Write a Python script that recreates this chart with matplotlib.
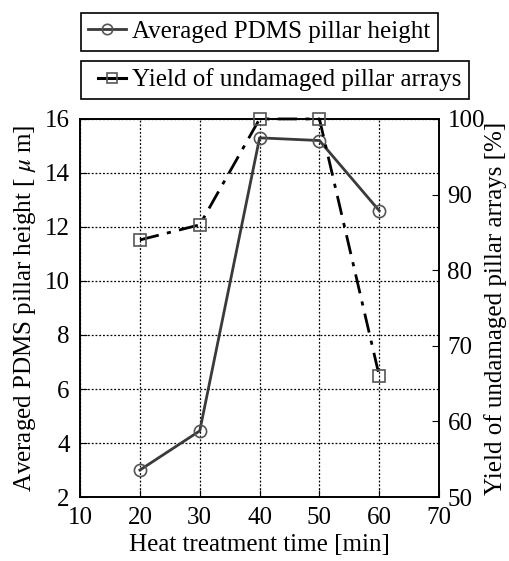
import numpy as np
import matplotlib
matplotlib.use('Agg')
from matplotlib import pyplot as plt
from matplotlib.lines import Line2D
from matplotlib.legend_handler import HandlerLine2D

plt.rcParams['font.family'] = ['Liberation Serif', 'DejaVu Serif']
plt.rcParams['mathtext.fontset'] = 'stix'
plt.rcParams['font.size'] = 18

# heat treatment time [min]
time_min = [20, 30, 40, 50, 60]
# averaged pillar height [um]
height_um = [3.0, 4.45, 15.3, 15.2, 12.6]
# yield of undamaged pillar arrays [%]
yield_pct = [84, 86, 100, 100, 66]

fig = plt.figure(figsize=(5.1, 5.61), dpi=100)
ax = fig.add_axes([0.157, 0.114, 0.704, 0.674])
ax2 = ax.twinx()

l1, = ax.plot(time_min, height_um, '-', color='#3a3a3a', lw=2,
              marker='o', ms=8.8, mfc='none', mec='#555555', mew=1.2,
              clip_on=False, zorder=3)
l2, = ax2.plot(time_min, yield_pct, color='black', lw=2,
               linestyle=(0, (7, 3, 1.5, 3)),
               marker='s', ms=9.3, mfc='none', mec='#555555', mew=1.2,
               clip_on=False, zorder=3)

ax.set_xlim(10, 70)
ax.set_ylim(2, 16)
ax2.set_ylim(50, 100)
ax.set_xticks(np.arange(10, 71, 10))
ax.set_yticks(np.arange(2, 17, 2))
ax2.set_yticks(np.arange(50, 101, 10))

ax.grid(True, color='black', linestyle=(0, (1.5, 1.5)), lw=0.9)
ax.tick_params(direction='in', length=5, pad=7.5)
ax2.tick_params(direction='in', length=5, pad=6)
for sp in list(ax.spines.values()) + list(ax2.spines.values()):
    sp.set_linewidth(1.2)

ax.set_xlabel('Heat treatment time [min]', labelpad=3)
ax.set_ylabel(r'Averaged PDMS pillar height [ $\mu$ m]', labelpad=5)
ax2.set_ylabel('Yield of undamaged pillar arrays [%]', labelpad=-1)

# legend handle for the yield curve drawn as a short solid stroke
l2_key = Line2D([], [], color='black', lw=2.2, marker='s', ms=9.3,
                mfc='none', mec='#555555', mew=1.2)

# two separate legend boxes above the axes, left edges aligned
for line, label, ytop, xpad in [(l1, 'Averaged PDMS pillar height', 13, 0.0),
                                (l2_key, 'Yield of undamaged pillar arrays', 61, 0.4)]:
    leg = fig.legend([line], [label], loc='upper left',
                     bbox_to_anchor=(81 / 510, 1 - ytop / 561),
                     fancybox=False, framealpha=1, edgecolor='black',
                     handlelength=1.5, handletextpad=0.25, borderpad=0.3,
                     borderaxespad=0, markerscale=0.85,
                     handler_map={line: HandlerLine2D(xpad=xpad)})
    leg.get_frame().set_linewidth(1.2)

fig.savefig('out.png', dpi=100)
